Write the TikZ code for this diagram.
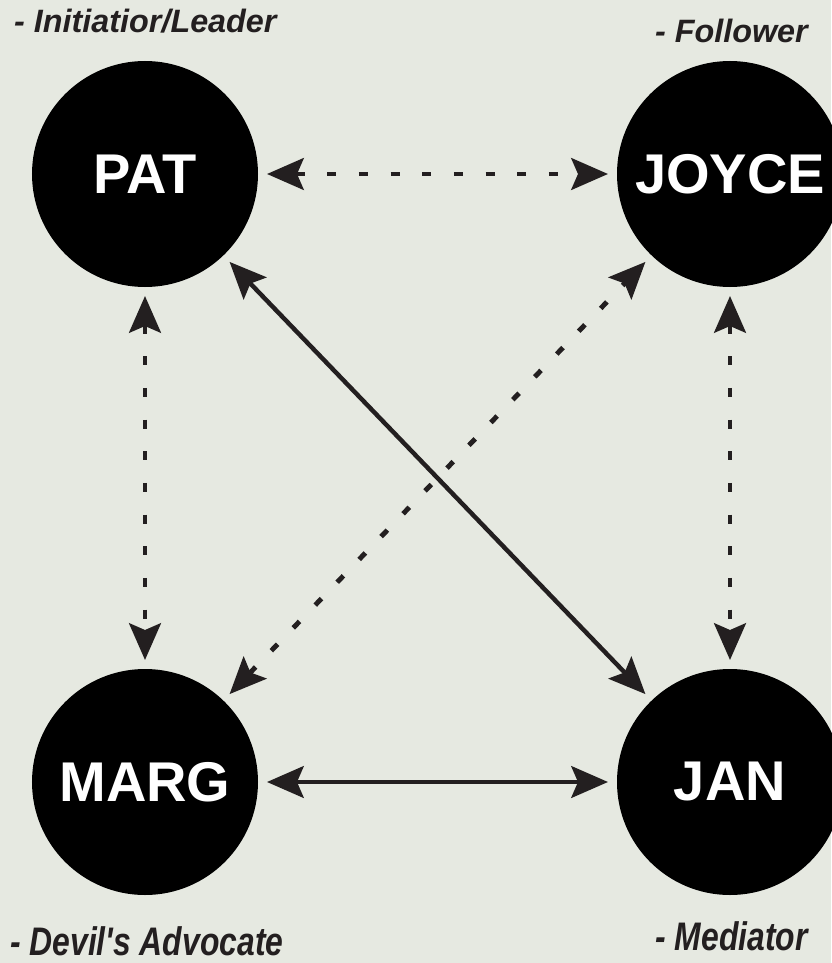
\documentclass[tikz,border=0pt]{standalone}
\usepackage{fontspec}
\setmainfont{Liberation Sans}
\newfontfamily\narrowfont[FakeStretch=0.8]{Liberation Sans}
\usepackage{tikz}
\usetikzlibrary{arrows.meta, positioning}
\definecolor{paper}{RGB}{230,233,225}
\definecolor{ink}{RGB}{35,31,32}

\begin{document}
\begin{tikzpicture}[node distance=18.24cm and 17.55cm, on grid,
    person/.style={circle, fill=black, text=white, minimum size=6.78cm, inner sep=0pt, outer sep=0.27cm, font=\fontsize{47.8}{50}\selectfont\bfseries},
    role/.style={inner sep=0pt, text=ink, font=\fontsize{27.6}{30}\selectfont\bfseries\itshape},
    lowrole/.style={inner sep=0pt, text=ink, font=\fontsize{34}{36}\selectfont\narrowfont\bfseries\itshape},
    link/.style={<->, >={Stealth[length=1.1cm, width=0.95cm, inset=0.2cm]}, line width=3.8pt, draw=ink},
    dots/.style={link, line width=4.2pt, dash pattern=on 0.27cm off 0.68cm}]
    \fill[paper] (-4.35,5.22) rectangle (20.58,-23.67);
    \useasboundingbox (-4.35,5.22) rectangle (20.58,-23.67);

    \node[person] (pat) at (0,0) {PAT};
    \node[person, right=of pat] (joyce) {JOYCE};
    \node[person, below=of pat] (marg) {MARG};
    \node[person, below=of joyce] (jan) {JAN};

    \node[role, anchor=base west] (leader) at (-3.93,4.23) {- Initiatior/Leader};
    \node[role, anchor=base east] (follower) at (19.89,3.93) {- Follower};
    \node[lowrole, anchor=base west] (devil) at (-4.05,-23.43) {- Devil's Advocate};
    \node[lowrole, anchor=base east] (mediator) at (19.89,-23.28) {- Mediator};

    \draw[dots] (pat) -- (joyce);
    \draw[dots] (pat) -- (marg);
    \draw[dots] (joyce) -- (jan);
    \draw[dots] (marg) -- (joyce);
    \draw[link] (pat) -- (jan);
    \draw[link] (marg) -- (jan);
\end{tikzpicture}
\end{document}
